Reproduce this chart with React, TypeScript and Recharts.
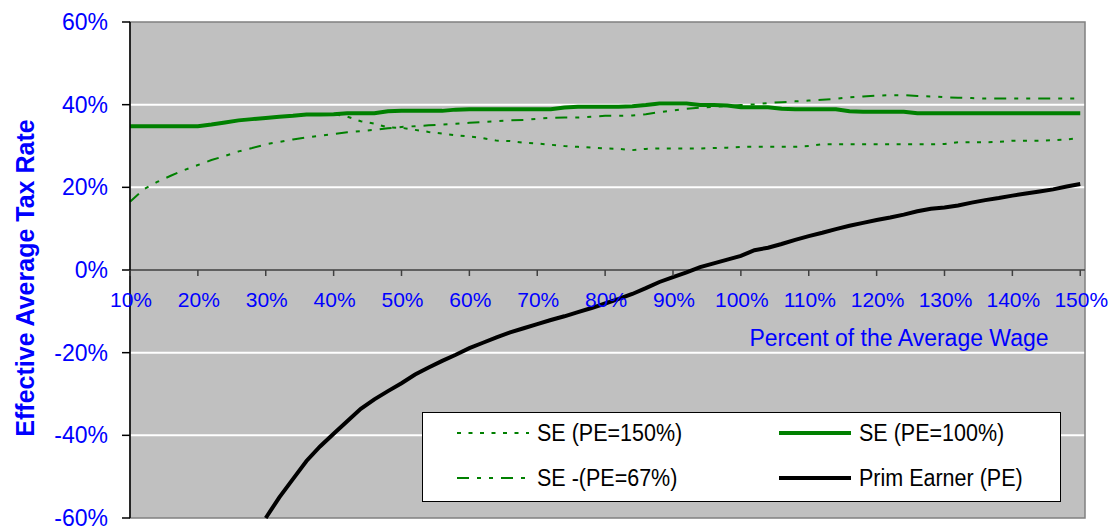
import React from "react";
import {
  LineChart,
  Line,
  XAxis,
  YAxis,
  CartesianGrid,
  ReferenceLine,
  ReferenceArea,
  Legend,
} from "recharts";

// x: percent of the average wage
const wages = [
  10, 12, 14, 16, 18, 20, 22, 24, 26, 28, 30, 32, 34, 36, 38, 40, 42, 44, 46, 48,
  50, 52, 54, 56, 58, 60, 62, 64, 66, 68, 70, 72, 74, 76, 78, 80, 82, 84, 86, 88,
  90, 92, 94, 96, 98, 100, 102, 104, 106, 108, 110, 112, 114, 116, 118, 120, 122,
  124, 126, 128, 130, 132, 134, 136, 138, 140, 142, 144, 146, 148, 150,
];

// SE (PE=150%) - dotted
const se150 = [
  34.8, 34.8, 34.8, 34.8, 34.8, 34.8, 35.2, 35.7, 36.2, 36.5, 36.8, 37.1, 37.3, 37.6, 37.6, 37.7,
  37.1, 36.0, 35.4, 34.5, 34.4, 33.9, 33.4, 33.0, 32.6, 32.3, 31.9, 31.3, 31.2, 30.8, 30.6, 30.3,
  30.0, 29.8, 29.6, 29.4, 29.3, 29.0, 29.3, 29.4, 29.4, 29.4, 29.4, 29.5, 29.6, 29.8, 29.8, 29.8,
  29.8, 29.8, 30.0, 30.4, 30.4, 30.4, 30.4, 30.4, 30.4, 30.4, 30.4, 30.4, 30.5, 30.9, 30.9, 30.9,
  31.0, 31.3, 31.3, 31.3, 31.4, 31.6, 31.9,
];

// SE (PE=100%) - thick solid green
const se100 = [
  34.8, 34.8, 34.8, 34.8, 34.8, 34.8, 35.2, 35.7, 36.2, 36.5, 36.8, 37.1, 37.3, 37.6, 37.6, 37.7,
  37.9, 37.9, 37.9, 38.4, 38.5, 38.5, 38.5, 38.5, 38.8, 38.9, 38.9, 38.9, 38.9, 38.9, 38.9, 38.9,
  39.3, 39.5, 39.5, 39.5, 39.5, 39.6, 39.9, 40.3, 40.3, 40.3, 39.9, 39.9, 39.8, 39.4, 39.4, 39.4,
  39.0, 38.9, 38.9, 38.9, 38.9, 38.4, 38.3, 38.3, 38.3, 38.3, 37.9, 37.9, 37.9, 37.9, 37.9, 37.9,
  37.9, 37.9, 37.9, 37.9, 37.9, 37.9, 37.9,
];

// SE -(PE=67%) - dash dot dot
const se67 = [
  16.5, 19.5, 21.3, 22.8, 24.2, 25.4, 26.6, 27.6, 28.7, 29.5, 30.4, 31.0, 31.6, 32.1, 32.5, 32.9,
  33.3, 33.6, 33.9, 34.3, 34.6, 34.8, 35.0, 35.2, 35.4, 35.6, 35.8, 36.0, 36.2, 36.3, 36.6, 36.8,
  36.9, 36.9, 37.1, 37.3, 37.3, 37.4, 37.7, 38.2, 38.6, 39.0, 39.3, 39.5, 39.7, 39.9, 40.1, 40.4,
  40.6, 40.8, 41.0, 41.2, 41.4, 41.8, 42.0, 42.2, 42.3, 42.3, 42.1, 42.0, 41.8, 41.7, 41.6, 41.5,
  41.5, 41.5, 41.5, 41.5, 41.5, 41.5, 41.5,
];

// Prim Earner (PE) - black, below the axis before 30%
const primEarner = [
  null, null, null, null, null, null, null, null, null, null, -60, -55.0, -50.6, -46.2, -42.7,
  -39.6, -36.6, -33.6, -31.3, -29.3, -27.4, -25.3, -23.6, -22.0, -20.5, -18.9, -17.6, -16.3,
  -15.1, -14.1, -13.1, -12.1, -11.2, -10.2, -9.2, -8.1, -7.0, -5.8, -4.4, -2.9, -1.7, -0.6, 0.7,
  1.6, 2.5, 3.4, 4.8, 5.4, 6.3, 7.3, 8.2, 9.0, 9.9, 10.7, 11.4, 12.1, 12.7, 13.4, 14.2, 14.8,
  15.1, 15.6, 16.3, 16.9, 17.4, 18.0, 18.5, 19.0, 19.5, 20.2, 20.8,
];

const xTicks = [10, 20, 30, 40, 50, 60, 70, 80, 90, 100, 110, 120, 130, 140, 150];
const yTicks = [-60, -40, -20, 0, 20, 40, 60];

const rows = wages.map((w, i) => ({
  wage: w,
  se150: se150[i],
  se100: se100[i],
  se67: se67[i],
  pe: primEarner[i],
}));

const BLUE = "#0000FF";
const GREEN = "#008000";
const FONT = '"Liberation Sans", Arial, sans-serif';

const W = 1109;
const H = 526;
const MARGIN = { top: 22, right: 24, bottom: 0, left: 0 };
const Y_AXIS_W = 130;
const X_AXIS_H = 8;
const Y_MIN = -60;
const Y_MAX = 60;
const PLOT_H = H - MARGIN.top - MARGIN.bottom - X_AXIS_H;
// the category axis crosses at 0%, not at the bottom
const ZERO_LIFT = (PLOT_H * (0 - Y_MIN)) / (Y_MAX - Y_MIN);

const SERIES = {
  se150: { name: "SE (PE=150%)", color: GREEN, width: 2, dash: "4 7.5" },
  se67: { name: "SE -(PE=67%)", color: GREEN, width: 2, dash: "12 8 4 8 4 8" },
  se100: { name: "SE (PE=100%)", color: GREEN, width: 4, dash: undefined },
  pe: { name: "Prim Earner (PE)", color: "#000000", width: 4, dash: undefined },
};
const legendOrder = ["se150", "se100", "se67", "pe"];

function XTick({ x, y, payload }: any) {
  const y0 = y - ZERO_LIFT;
  return (
    <g>
      <line x1={x} x2={x} y1={y0} y2={y0 + 6} stroke="#404040" strokeWidth={1.5} />
      <text x={x + 1} y={y0 + 37} textAnchor="middle" fill={BLUE} fontSize={21}>
        {payload.value}%
      </text>
    </g>
  );
}

function YTitle({ viewBox }: any) {
  if (!viewBox) return null;
  const cx = viewBox.x + 25;
  const cy = viewBox.y + viewBox.height / 2 + 8;
  return (
    <text
      x={cx}
      y={cy}
      transform={`rotate(-90 ${cx} ${cy})`}
      textAnchor="middle"
      dominantBaseline="central"
      fill={BLUE}
      fontSize={25}
      fontWeight="bold"
    >
      Effective Average Tax Rate
    </text>
  );
}

function XTitle({ viewBox }: any) {
  if (!viewBox) return null;
  const cx = viewBox.x + viewBox.width - 186;
  const cy = viewBox.y - ZERO_LIFT + 76;
  return (
    <text x={cx} y={cy} textAnchor="middle" fill={BLUE} fontSize={23}>
      Percent of the Average Wage
    </text>
  );
}

function LegendBox() {
  return (
    <div
      style={{
        width: 639,
        height: 90,
        boxSizing: "border-box",
        background: "#fff",
        border: "1px solid #000",
        position: "relative",
        fontFamily: FONT,
      }}
    >
      {legendOrder.map((key, i) => {
        const s = (SERIES as any)[key];
        const left = i % 2 === 0 ? 34 : 356;
        const top = i < 2 ? 20 : 65;
        return (
          <div
            key={key}
            style={{
              position: "absolute",
              left,
              top: top - 14,
              height: 28,
              display: "flex",
              alignItems: "center",
              whiteSpace: "nowrap",
            }}
          >
            <svg width={72} height={8} style={{ display: "block" }}>
              <line
                x1={0}
                x2={72}
                y1={4}
                y2={4}
                stroke={s.color}
                strokeWidth={s.width}
                strokeDasharray={s.dash}
              />
            </svg>
            <span
              style={{
                marginLeft: 8,
                fontSize: 21.5,
                color: "#000",
                display: "inline-block",
                transform: "scaleY(1.12)",
              }}
            >
              {s.name}
            </span>
          </div>
        );
      })}
    </div>
  );
}

export default function App() {
  return (
    <div style={{ position: "absolute", left: 0, top: 0, fontFamily: FONT }}>
      <LineChart width={W} height={H} data={rows} margin={MARGIN}>
        <CartesianGrid
          vertical={false}
          horizontalValues={[-40, -20, 20, 40]}
          stroke="#FFFFFF"
          strokeWidth={2}
          fill="#C0C0C0"
          fillOpacity={1}
        />
        <XAxis
          dataKey="wage"
          type="number"
          domain={[10, 150.7]}
          ticks={xTicks}
          height={X_AXIS_H}
          axisLine={false}
          tickLine={false}
          tickSize={0}
          tickMargin={0}
          tick={<XTick />}
          interval={0}
          label={<XTitle />}
        />
        <YAxis
          type="number"
          domain={[Y_MIN, Y_MAX]}
          ticks={yTicks}
          width={Y_AXIS_W}
          interval={0}
          axisLine={{ stroke: "#000", strokeWidth: 1.5 }}
          tickLine={{ stroke: "#000", strokeWidth: 1.5 }}
          tickSize={8}
          tickMargin={14}
          tick={{ fill: BLUE, fontSize: 23 }}
          tickFormatter={(v: number) => `${v}%`}
          label={<YTitle />}
        />
        <ReferenceArea
          x1={10}
          x2={150.7}
          y1={Y_MIN}
          y2={Y_MAX}
          fill="none"
          stroke="#808080"
          strokeWidth={1.5}
        />
        <ReferenceLine y={0} stroke="#404040" strokeWidth={1.5} />
        {["se150", "se67", "se100", "pe"].map((key) => {
          const s = (SERIES as any)[key];
          return (
            <Line
              key={key}
              dataKey={key}
              name={s.name}
              type="linear"
              stroke={s.color}
              strokeWidth={s.width}
              strokeDasharray={s.dash}
              dot={false}
              activeDot={false}
              isAnimationActive={false}
            />
          );
        })}
        <Legend
          layout="horizontal"
          verticalAlign="middle"
          align="center"
          content={() => <LegendBox />}
          wrapperStyle={{ left: 422, top: 412, width: 639, height: 90 }}
        />
      </LineChart>
    </div>
  );
}
